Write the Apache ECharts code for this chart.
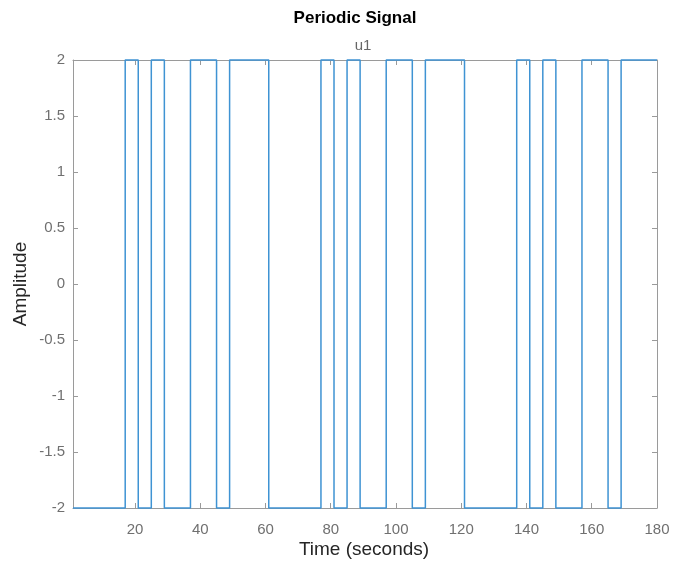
<!DOCTYPE html>
<html>
<head>
<meta charset="utf-8">
<script src="https://cdn.jsdelivr.net/npm/echarts@6/dist/echarts.min.js"></script>
<style>html,body{margin:0;padding:0;background:#fff}#c{width:675px;height:565px}</style>
</head>
<body>
<div id="c"></div>
<script>
// Times (s) where the signal level changes, and the level held from that time on
var edgeTimes = [1, 17, 21, 25, 29, 37, 45, 49, 61, 77, 81, 85, 89, 97, 105, 109, 121, 137, 141, 145, 149, 157, 165, 169, 180];
var levels    = [-2, 2, -2, 2, -2, 2, -2, 2, -2, 2, -2, 2, -2, 2, -2, 2, -2, 2, -2, 2, -2, 2, -2, 2, 2];
var xTicks = [20, 40, 60, 80, 100, 120, 140, 160, 180];

var data = edgeTimes.map(function (t, i) { return [t, levels[i]]; });
var chart = echarts.init(document.getElementById('c'));
var axisCol = '#9a9a9a', labCol = '#707070', FF = 'Liberation Sans, Arial';
function xAxis(pos, show) {
  return {
    type: 'value', position: pos, min: 1, max: 180, interval: 20,
    axisLine: { show: true, onZero: false, lineStyle: { color: axisCol, width: 1 } },
    axisTick: { show: true, inside: true, length: 5, lineStyle: { color: axisCol }, customValues: xTicks },
    axisLabel: show ? { show: true, color: labCol, fontSize: 15, fontFamily: FF, margin: 14, customValues: xTicks } : { show: false },
    splitLine: { show: false }
  };
}
function yAxis(pos, show) {
  return {
    type: 'value', position: pos, min: -2, max: 2, interval: 0.5,
    axisLine: { show: true, onZero: false, lineStyle: { color: axisCol, width: 1 } },
    axisTick: { show: true, inside: true, length: 5, lineStyle: { color: axisCol } },
    axisLabel: show ? { show: true, color: labCol, fontSize: 15, fontFamily: FF, margin: 8 } : { show: false },
    splitLine: { show: false }
  };
}
chart.setOption({
  backgroundColor: '#fff',
  animation: false,
  graphic: [
    { type: 'text', x: 355, y: 18, style: { text: 'Periodic Signal', fill: '#000', font: 'bold 17px ' + FF, textAlign: 'center', textVerticalAlign: 'middle' } },
    { type: 'text', x: 363, y: 46, style: { text: 'u1', fill: '#666', font: '15px ' + FF, textAlign: 'center', textVerticalAlign: 'middle' } },
    { type: 'text', x: 364, y: 550, style: { text: 'Time (seconds)', fill: '#262626', font: '19px ' + FF, textAlign: 'center', textVerticalAlign: 'middle' } },
    { type: 'text', x: 21, y: 284, rotation: Math.PI / 2, style: { text: 'Amplitude', fill: '#262626', font: '19px ' + FF, textAlign: 'center', textVerticalAlign: 'middle' } }
  ],
  grid: { left: 73, right: 18, top: 60, bottom: 57, containLabel: false },
  xAxis: [xAxis('bottom', true), xAxis('top', false)],
  yAxis: [yAxis('left', true), yAxis('right', false)],
  series: [{
    type: 'line', step: 'end', data: data, showSymbol: false, symbol: 'none',
    xAxisIndex: 0, yAxisIndex: 0, clip: false,
    lineStyle: { color: '#3f93d3', width: 1.5 }
  }]
});
</script>
</body>
</html>
